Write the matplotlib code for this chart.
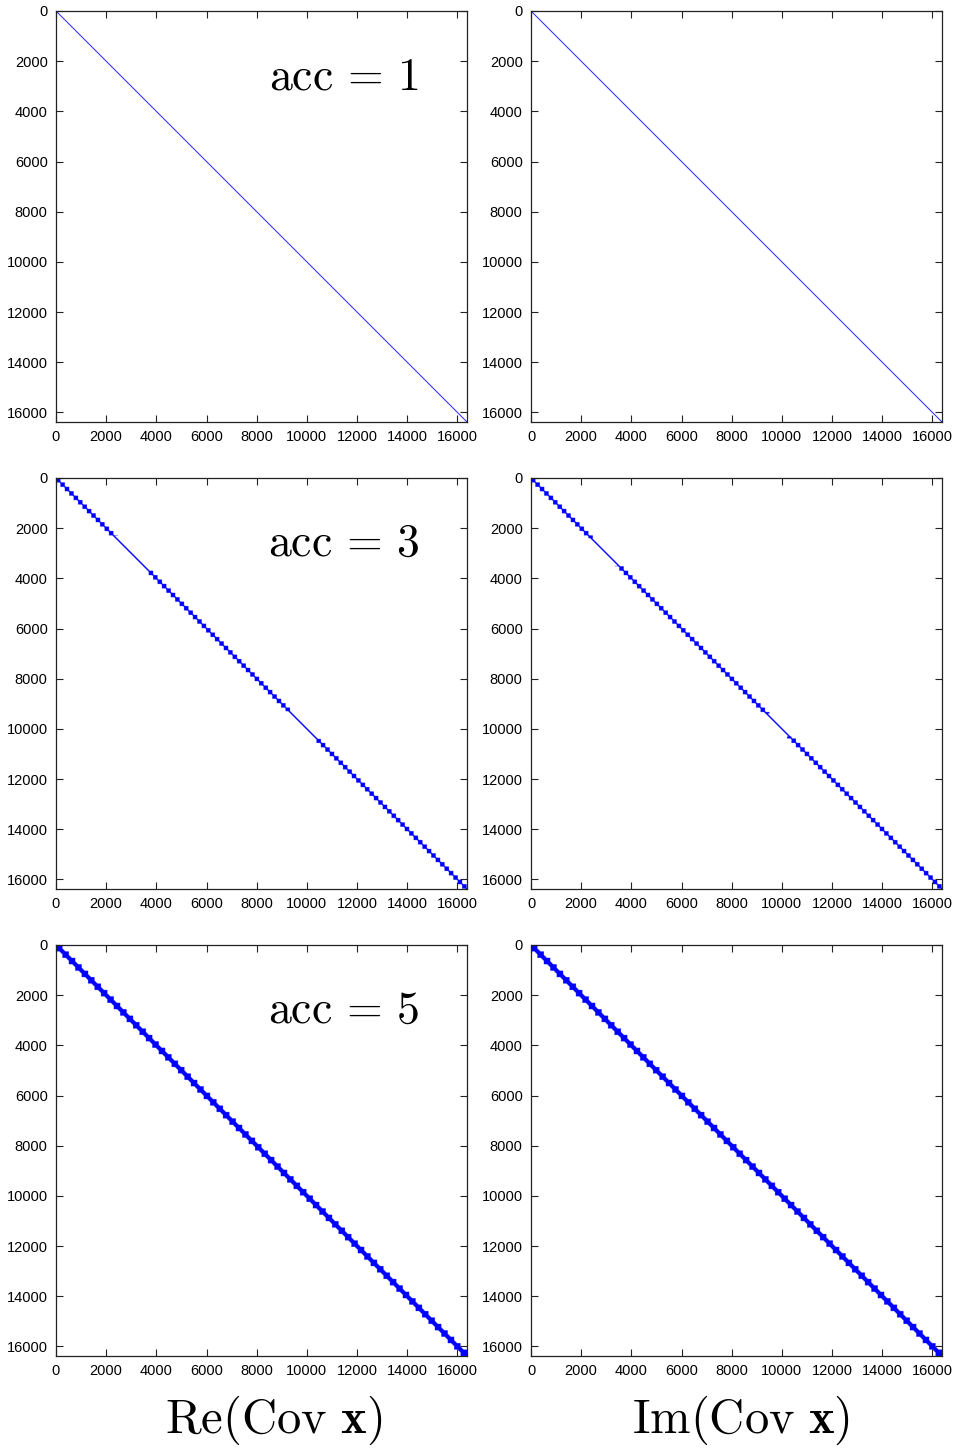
import numpy as np
import matplotlib
matplotlib.use("Agg")
import matplotlib.pyplot as plt
from matplotlib.colors import ListedColormap

# ── Data ─────────────────────────────────────────────────────────────────────
N        = 16384                      # matrix dimension (128 x 128 grid)
ACC      = [1, 3, 5]                  # accuracy order, one row of panels each
BLOCK    = [16, 176, 256]             # size of the diagonal blocks (rows)
HALFBAND = [24, 40, 115]              # half-width of the diagonal band (rows)
# stretches where the acc=3 pattern collapses to the bare band
THIN_RE  = {3: [(2300, 3700), (9300, 10400)]}
THIN_IM  = {3: [(2400, 3500), (9400, 10300)]}
PARTS    = ["Re", "Im"]
TICKS    = [0, 2000, 4000, 6000, 8000, 10000, 12000, 14000, 16000]
CELL     = 16                         # rows per image cell when drawing

def pattern(block, half, thin):
    m = N // CELL
    idx = np.arange(m) * CELL + CELL / 2
    r, c = np.meshgrid(idx, idx, indexing="ij")
    band = np.abs(r - c) <= half
    same = (r // block) == (c // block)
    for a, b in thin:
        inside = (r >= a) & (r < b)
        same &= ~inside
    return (band | same).astype(float)

# ── Figure ───────────────────────────────────────────────────────────────────
W, H = 957, 1450
fig = plt.figure(figsize=(W / 100, H / 100), dpi=100)
cmap = ListedColormap(["white", "#0000ff"])

left_px = [56, 531]
top_px  = [11, 478, 945]
size_px = 411

for row, acc in enumerate(ACC):
    for col, part in enumerate(PARTS):
        ax = fig.add_axes([left_px[col] / W, 1 - (top_px[row] + size_px) / H,
                           size_px / W, size_px / H])
        thin = (THIN_RE if part == "Re" else THIN_IM).get(acc, [])
        img = pattern(BLOCK[row], HALFBAND[row], thin)
        ax.imshow(img, cmap=cmap, vmin=0, vmax=1, extent=[0, N, N, 0],
                  interpolation="antialiased", interpolation_stage="rgba",
                  aspect="auto")
        ax.set_xlim(0, N + 1)
        ax.set_ylim(N + 1, 0)
        ax.set_xticks(TICKS)
        ax.set_yticks(TICKS)
        ax.tick_params(direction="in", top=True, right=True, length=5,
                       width=0.8, labelsize=10.5, pad=6, colors="#222222",
                       labelcolor="black")
        for s in ax.spines.values():
            s.set_linewidth(0.9)
            s.set_color("#222222")
        for lab in ax.get_xticklabels() + ax.get_yticklabels():
            lab.set_family("Liberation Sans")
        if col == 0:
            ax.text(0.70, 0.84, r"$\mathrm{acc}\,=\,%d$" % acc,
                    transform=ax.transAxes, ha="center", va="center",
                    fontsize=33, math_fontfamily="cm")

fig.text(274 / W, 1 - 1420 / H, r"$\mathrm{Re}(\mathrm{Cov}\ \mathbf{x})$",
         ha="center", va="center", fontsize=35, math_fontfamily="cm")
fig.text(741 / W, 1 - 1420 / H, r"$\mathrm{Im}(\mathrm{Cov}\ \mathbf{x})$",
         ha="center", va="center", fontsize=35, math_fontfamily="cm")

fig.savefig("out.png", dpi=100)
